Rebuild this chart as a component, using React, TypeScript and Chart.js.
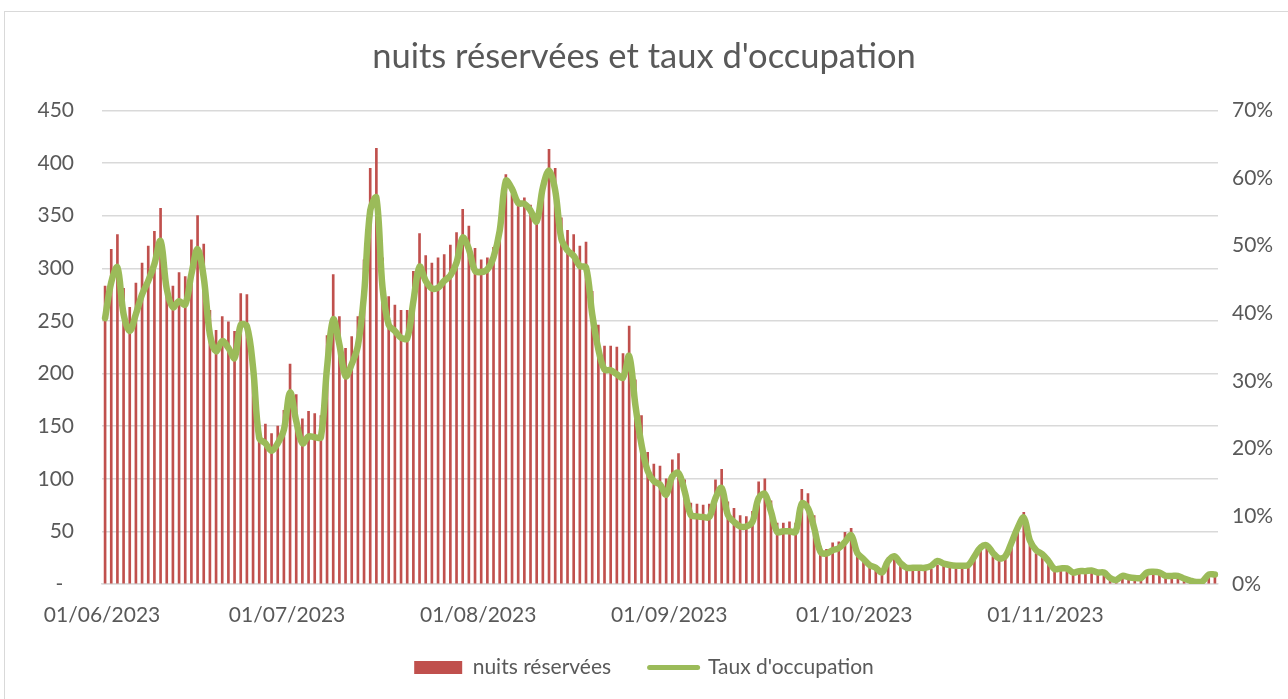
import React, { useEffect, useRef } from 'react';
import { Chart, registerables } from 'chart.js';

Chart.register(...registerables);

// ---------- Data ----------
const TITLE = "nuits réservées et taux d'occupation";
const SERIES_BARS = 'nuits réservées';
const SERIES_LINE = "Taux d'occupation";
const START_DATE_UTC = Date.UTC(2023, 5, 1); // 01/06/2023
const NB_DAYS = 181; // 01/06/2023 -> 28/11/2023
const MONTH_TICKS = ['01/06/2023', '01/07/2023', '01/08/2023', '01/09/2023', '01/10/2023', '01/11/2023'];
const LEFT_TICKS = [0, 50, 100, 150, 200, 250, 300, 350, 400, 450];
const RIGHT_TICKS = [0, 10, 20, 30, 40, 50, 60, 70];

// nuits réservées (par jour)
const nuitsJuin = [283, 318, 332, 281, 263, 286, 305, 321, 335, 357, 283, 283, 296, 292, 327, 350, 323, 260, 241, 254, 249, 240, 276, 275, 212, 143, 152, 143, 150, 165];
const nuitsJuillet = [209, 180, 157, 164, 162, 160, 236, 294, 254, 224, 235, 254, 308, 395, 414, 310, 273, 265, 260, 260, 297, 333, 312, 305, 310, 313, 322, 334, 356, 340, 319];
const nuitsAout = [308, 310, 320, 345, 389, 370, 364, 367, 360, 348, 383, 413, 395, 348, 336, 332, 321, 325, 278, 246, 226, 226, 225, 219, 245, 194, 160, 125, 114, 112, 100];
const nuitsSeptembre = [118, 124, 99, 77, 76, 75, 76, 99, 109, 78, 72, 65, 64, 69, 97, 100, 79, 58, 58, 59, 58, 90, 86, 65, 36, 33, 39, 40, 49, 53];
const nuitsOctobre = [30, 22, 16, 14, 9, 25, 26, 17, 14, 14, 14, 14, 14, 18, 17, 15, 14, 14, 15, 25, 37, 38, 26, 23, 25, 34, 50, 68, 43, 29, 25];
const nuitsNovembre = [20, 12, 15, 14, 9, 13, 14, 13, 10, 10, 6, 5, 6, 5, 5, 4, 10, 10, 9, 6, 6, 6, 4, 3, 1, 3, 6, 7];

// taux d'occupation (%)
const tauxJuin = [39.3, 44.6, 46.8, 39.9, 37.4, 39.9, 42.8, 44.8, 47.3, 50.7, 43.6, 40.9, 41.8, 41.3, 45.8, 49.5, 45.3, 36.9, 34.4, 35.9, 34.9, 33.4, 38.3, 38.1, 32.0, 21.6, 20.8, 19.7, 20.8, 22.8];
const tauxJuillet = [28.3, 24.1, 20.8, 21.8, 21.7, 21.7, 32.0, 39.1, 35.4, 30.7, 32.5, 35.2, 42.8, 55.2, 57.1, 43.8, 38.3, 37.4, 36.4, 36.3, 41.8, 46.9, 44.8, 43.7, 43.8, 44.8, 45.6, 47.5, 51.2, 49.5, 46.3];
const tauxAout = [46.1, 46.5, 48.3, 52.2, 59.6, 58.4, 56.3, 56.2, 55.2, 53.6, 58.6, 61.1, 58.2, 51.0, 49.3, 48.5, 47.0, 46.8, 39.9, 34.7, 31.7, 31.6, 31.0, 30.5, 33.7, 26.5, 20.6, 16.7, 15.2, 14.7, 13.2];
const tauxSeptembre = [15.9, 16.4, 13.7, 10.2, 10.0, 9.9, 9.9, 12.7, 14.2, 10.2, 9.2, 8.5, 8.5, 9.2, 12.7, 13.3, 10.7, 7.7, 7.8, 7.8, 7.7, 11.9, 11.2, 8.3, 4.8, 4.5, 5.0, 5.3, 6.2, 7.2];
const tauxOctobre = [4.6, 3.7, 2.8, 2.4, 1.7, 3.4, 4.1, 3.1, 2.4, 2.4, 2.4, 2.4, 2.7, 3.4, 3.0, 2.8, 2.7, 2.7, 2.8, 4.1, 5.4, 5.7, 4.6, 3.8, 4.1, 6.1, 8.3, 9.8, 6.4, 5.0, 4.4];
const tauxNovembre = [3.4, 2.2, 2.3, 2.3, 1.7, 1.9, 1.9, 2.0, 1.7, 1.7, 0.9, 0.6, 1.2, 1.0, 0.9, 0.9, 1.7, 1.8, 1.7, 1.2, 1.2, 1.2, 0.8, 0.5, 0.3, 0.4, 1.4, 1.4];

// ---------- Styles ----------
const RED = '#C0504D';
const GREEN = '#9BBB59';
const TEXT = '#595959';
const GRID = '#D9D9D9';
const FONT = 'Lato, "Open Sans", sans-serif';

function buildDays(): string[] {
  const out: string[] = [];
  for (let i = 0; i < NB_DAYS; i++) {
    const d = new Date(START_DATE_UTC + i * 86400000);
    const dd = String(d.getUTCDate()).padStart(2, '0');
    const mm = String(d.getUTCMonth() + 1).padStart(2, '0');
    out.push(`${dd}/${mm}/${d.getUTCFullYear()}`);
  }
  return out;
}

export default function App() {
  const ref = useRef<HTMLCanvasElement | null>(null);

  useEffect(() => {
    if (!ref.current) return;
    const days = buildDays();
    const nuits = [...nuitsJuin, ...nuitsJuillet, ...nuitsAout, ...nuitsSeptembre, ...nuitsOctobre, ...nuitsNovembre];
    const taux = [...tauxJuin, ...tauxJuillet, ...tauxAout, ...tauxSeptembre, ...tauxOctobre, ...tauxNovembre];
    const isMonthStart = (i: number) => i >= 0 && i < days.length && MONTH_TICKS.includes(days[i]);

    const chart = new Chart(ref.current, {
      type: 'bar',
      data: {
        labels: days,
        datasets: [
          {
            type: 'bar',
            label: SERIES_BARS,
            data: nuits,
            backgroundColor: RED,
            barThickness: 2,
            yAxisID: 'y',
            order: 2,
          } as any,
          {
            type: 'line',
            label: SERIES_LINE,
            data: taux,
            borderColor: GREEN,
            backgroundColor: GREEN,
            borderWidth: 6.5,
            pointRadius: 0,
            tension: 0.35,
            borderCapStyle: 'round',
            borderJoinStyle: 'round',
            yAxisID: 'y1',
            order: 1,
          } as any,
        ],
      },
      options: {
        responsive: false,
        animation: false,
        layout: { padding: { left: 0, right: 0, top: 0, bottom: 11 } },
        plugins: {
          title: {
            display: true,
            text: TITLE,
            color: TEXT,
            font: { family: FONT, size: 34.5, weight: 'normal' },
            padding: { top: 36, bottom: 33 },
          },
          legend: {
            position: 'bottom',
            labels: {
              usePointStyle: true,
              pointStyleWidth: 48,
              boxHeight: 13,
              padding: 28,
              color: TEXT,
              font: { family: FONT, size: 21 },
              generateLabels: () => [
                {
                  text: SERIES_BARS + '\u2002',
                  fillStyle: RED,
                  strokeStyle: RED,
                  lineWidth: 0,
                  pointStyle: 'rect',
                  datasetIndex: 0,
                  hidden: false,
                  fontColor: TEXT,
                } as any,
                {
                  text: SERIES_LINE,
                  fillStyle: GREEN,
                  strokeStyle: GREEN,
                  lineWidth: 5,
                  lineCap: 'round',
                  pointStyle: 'line',
                  datasetIndex: 1,
                  hidden: false,
                  fontColor: TEXT,
                } as any,
              ],
            },
          },
          tooltip: { enabled: false },
        },
        scales: {
          x: {
            type: 'category',
            offset: true,
            grid: {
              offset: true,
              drawOnChartArea: false,
              drawTicks: true,
              tickLength: 7,
              lineWidth: 1.5,
              color: (ctx: any) => (isMonthStart(ctx.index) ? GRID : 'rgba(0,0,0,0)'),
            },
            border: { color: GRID, width: 1.5 },
            ticks: {
              autoSkip: false,
              maxRotation: 0,
              minRotation: 0,
              padding: 12,
              labelOffset: -3,
              color: TEXT,
              font: { family: FONT, size: 21 },
              callback: function (this: any, value: any, index: number) {
                return isMonthStart(index) ? days[index] : null;
              },
            },
            afterFit: (s: any) => {
              s.height = 45;
            },
          } as any,
          y: {
            position: 'left',
            min: 0,
            max: 450,
            afterBuildTicks: (s: any) => {
              s.ticks = LEFT_TICKS.map((v) => ({ value: v }));
            },
            ticks: {
              padding: 28,
              color: TEXT,
              font: { family: FONT, size: 21 },
              callback: (v: any) => (Number(v) === 0 ? '-  ' : String(v)),
            },
            grid: { color: GRID, lineWidth: 1.5, drawTicks: false },
            border: { display: false },
            afterFit: (s: any) => {
              s.width = 102;
            },
          } as any,
          y1: {
            position: 'right',
            min: 0,
            max: 70,
            afterBuildTicks: (s: any) => {
              s.ticks = RIGHT_TICKS.map((v) => ({ value: v }));
            },
            ticks: {
              padding: 14,
              color: TEXT,
              font: { family: FONT, size: 21 },
              callback: (v: any) => `${v}%`,
            },
            grid: { drawOnChartArea: false, drawTicks: false },
            border: { display: false },
            afterFit: (s: any) => {
              s.width = 70;
            },
          } as any,
        },
      },
    });
    return () => chart.destroy();
  }, []);

  return (
    <div style={{ position: 'fixed', left: 0, top: 0, width: 1288, height: 699, background: '#fff', overflow: 'hidden' }}>
      <div
        style={{
          position: 'absolute',
          left: 4,
          top: 11,
          width: 1300,
          height: 700,
          border: '1px solid #D9D9D9',
          boxSizing: 'border-box',
        }}
      />
      <canvas ref={ref} width={1288} height={699} style={{ position: 'absolute', left: 0, top: 0, display: 'block' }} />
    </div>
  );
}
